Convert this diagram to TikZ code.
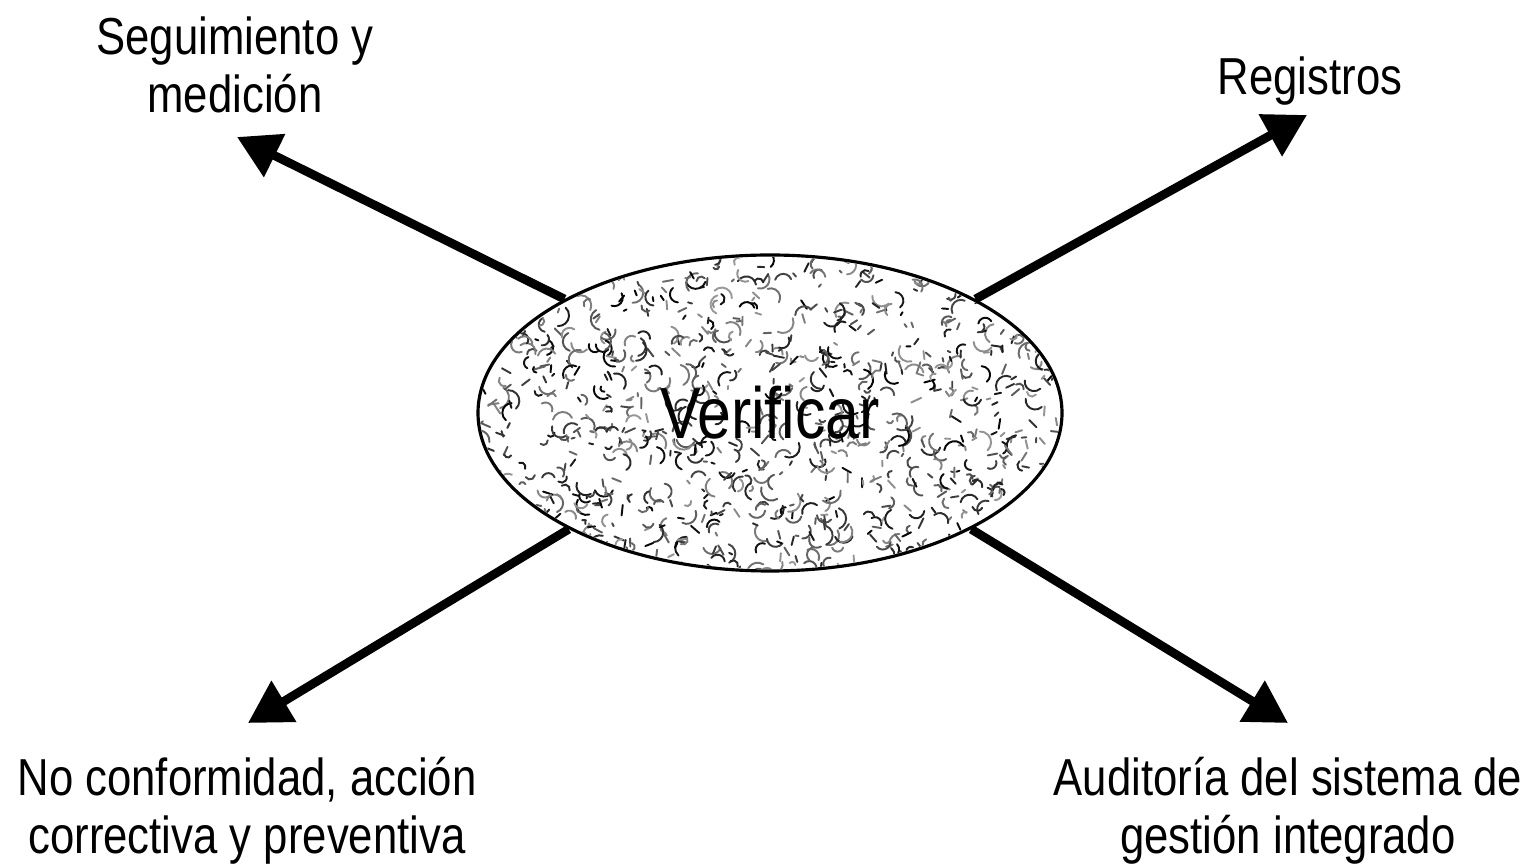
\documentclass[tikz,border=0pt]{standalone}
\usepackage{fontspec}
\setmainfont{Liberation Sans}[FakeStretch=0.84]
\usetikzlibrary{arrows.meta, positioning, shapes.geometric, backgrounds}

\tikzset{
  flecha/.style={line width=2.5pt, -{Triangle[length=0.42cm, width=0.46cm]}},
  etiqueta/.style={inner sep=0pt, align=center, font=\fontsize{14.8}{16.5}\selectfont},
  mancha/.style={line width=0.55pt, line cap=round}
}

\begin{document}
\begin{tikzpicture}
  \useasboundingbox (0,0) rectangle (15.38,-8.64);

  \node[ellipse, draw, line width=0.9pt, inner sep=0pt,
        minimum width=5.84cm, minimum height=3.16cm,
        font=\fontsize{20.6}{24}\selectfont] (verificar) at (7.70,-4.13) {Verificar};

  % textured fill of the ellipse
  \begin{scope}[on background layer]
    \clip (7.70,-4.13) ellipse [x radius=2.90cm, y radius=1.56cm];
    \pgfmathsetseed{2718}
    \foreach \k in {1,...,1100}{
      \pgfmathsetmacro{\px}{7.70+2.95*rand}
      \pgfmathsetmacro{\py}{-4.13+1.6*rand}
      \pgfmathsetmacro{\pa}{360*rnd}
      \pgfmathsetmacro{\pl}{0.03+0.08*rnd}
      \pgfmathtruncatemacro{\pg}{40+60*rnd}
      \ifodd\k
        \draw[mancha, black!\pg] (\px,\py) -- ++(\pa:\pl);
      \else
        \draw[mancha, black!\pg] (\px,\py) arc[start angle=\pa, delta angle=140, radius=\pl];
      \fi
    }
  \end{scope}

  \coordinate (pSeg) at (2.37,-1.37);
  \coordinate (pReg) at (13.07,-1.15);
  \coordinate (pNoc) at (2.48,-7.23);
  \coordinate (pAud) at (12.88,-7.23);

  \draw[flecha] (verificar.151) -- (pSeg);
  \draw[flecha] (verificar.29) -- (pReg);
  \draw[flecha] (verificar.210) -- (pNoc);
  \draw[flecha] (verificar.330) -- (pAud);

  \node[etiqueta] (seg) at (2.35,-0.65) {Seguimiento y\\medición};
  \node[etiqueta, anchor=base] (reg) at (13.10,-0.95) {Registros};
  \node[etiqueta] (noc) at (2.47,-8.11) {No conformidad, acción\\correctiva y preventiva};
  \node[etiqueta] (aud) at (12.88,-8.11) {Auditoría del sistema de\\gestión integrado};
\end{tikzpicture}
\end{document}
